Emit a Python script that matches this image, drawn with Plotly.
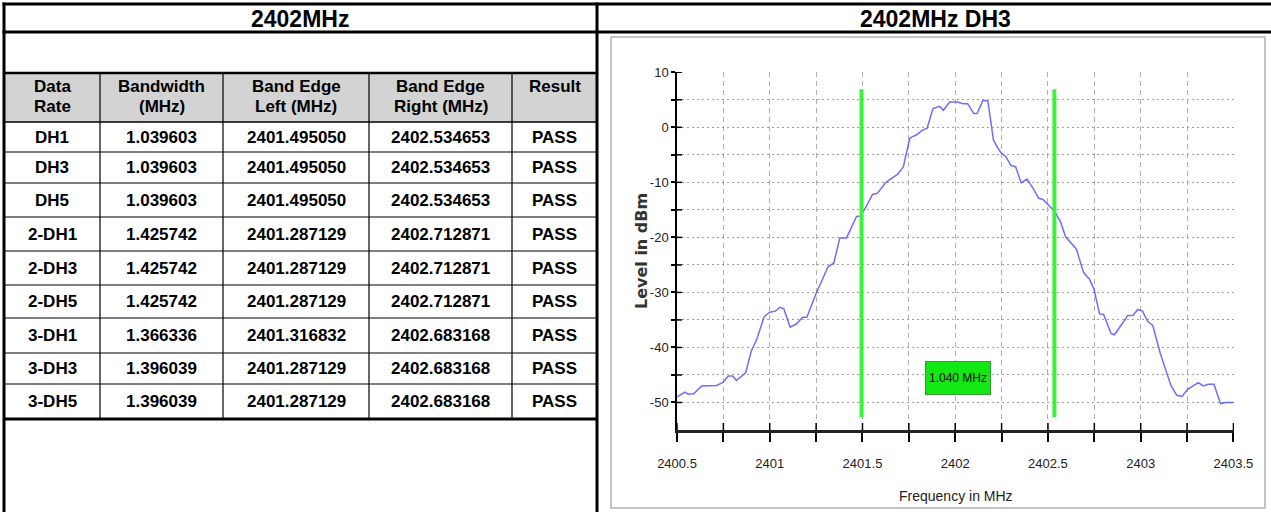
import plotly.graph_objects as go

W, H = 1271, 512

# ---------------- table data ----------------
table_title = "2402MHz"
chart_title = "2402MHz DH3"
header_line1 = ["Data", "Bandwidth", "Band Edge", "Band Edge", "Result"]
header_line2 = ["Rate", "(MHz)", "Left (MHz)", "Right (MHz)", ""]
rates = ["DH1", "DH3", "DH5", "2-DH1", "2-DH3", "2-DH5", "3-DH1", "3-DH3", "3-DH5"]
bandwidths = [1.039603, 1.039603, 1.039603, 1.425742, 1.425742, 1.425742, 1.366336, 1.396039, 1.396039]
left_edges = [2401.495050, 2401.495050, 2401.495050, 2401.287129, 2401.287129, 2401.287129,
              2401.316832, 2401.287129, 2401.287129]
right_edges = [2402.534653, 2402.534653, 2402.534653, 2402.712871, 2402.712871, 2402.712871,
               2402.683168, 2402.683168, 2402.683168]
results = ["PASS"] * 9

# ---------------- spectrum data (DH3) ----------------
freq_mhz = [2400.500, 2400.543, 2400.560, 2400.590, 2400.633, 2400.714, 2400.750, 2400.776, 2400.800,
            2400.820, 2400.870, 2400.900, 2400.930, 2400.970, 2401.000, 2401.030, 2401.055, 2401.076,
            2401.110, 2401.145, 2401.177, 2401.200, 2401.250, 2401.285, 2401.315, 2401.345, 2401.378,
            2401.414, 2401.468, 2401.490, 2401.520, 2401.554, 2401.580, 2401.626, 2401.665, 2401.690,
            2401.720, 2401.755, 2401.770, 2401.790, 2401.823, 2401.848, 2401.880, 2401.916, 2401.936,
            2401.970, 2402.010, 2402.044, 2402.067, 2402.100, 2402.118, 2402.150, 2402.176, 2402.206,
            2402.230, 2402.249, 2402.272, 2402.300, 2402.326, 2402.356, 2402.387, 2402.420, 2402.450,
            2402.473, 2402.536, 2402.567, 2402.595, 2402.626, 2402.653, 2402.692, 2402.724, 2402.748,
            2402.778, 2402.800, 2402.841, 2402.859, 2402.895, 2402.930, 2402.958, 2402.984, 2403.010,
            2403.038, 2403.065, 2403.105, 2403.137, 2403.164, 2403.195, 2403.223, 2403.253, 2403.284,
            2403.310, 2403.337, 2403.365, 2403.395, 2403.430, 2403.460, 2403.500]
level_dbm = [-49.0, -48.1, -48.5, -48.4, -47.0, -46.9, -46.3, -45.2, -45.2,
             -46.0, -44.6, -40.7, -38.5, -34.4, -33.6, -33.4, -32.7, -33.0,
             -36.3, -35.7, -34.5, -34.5, -30.2, -27.4, -25.3, -24.7, -20.1,
             -20.1, -16.2, -16.1, -14.4, -12.2, -12.0, -10.0, -9.1, -8.5,
             -7.2, -2.0, -1.7, -1.4, -0.5, -0.2, 3.4, 3.8, 3.1,
             4.6, 4.6, 4.3, 4.3, 2.5, 2.5, 4.9, 4.8, -2.3,
             -3.8, -4.7, -5.3, -6.9, -7.2, -10.1, -9.4, -11.1, -12.9,
             -13.1, -15.3, -17.1, -19.9, -21.1, -22.1, -26.4, -27.6, -29.4,
             -33.9, -34.0, -37.5, -37.7, -35.9, -34.2, -34.2, -33.1, -33.4,
             -35.3, -36.0, -41.0, -44.3, -47.0, -48.7, -48.9, -47.6, -47.0,
             -46.4, -47.0, -46.7, -46.7, -50.2, -50.0, -50.0]
dh3_index = 1
marker_left = left_edges[dh3_index]
marker_right = right_edges[dh3_index]
marker_bw = bandwidths[dh3_index]

x_tick_vals = [2400.5, 2400.75, 2401, 2401.25, 2401.5, 2401.75, 2402, 2402.25, 2402.5,
               2402.75, 2403, 2403.25, 2403.5]
x_tick_text = ["2400.5", "", "2401", "", "2401.5", "", "2402", "", "2402.5", "", "2403", "", "2403.5"]
y_tick_vals = [10, 5, 0, -5, -10, -15, -20, -25, -30, -35, -40, -45, -50]
y_tick_text = ["10", "", "0", "", "-10", "", "-20", "", "-30", "", "-40", "", "-50"]


def px(x):
    return x / W


def py(y):
    return 1 - y / H


NARROW = "Liberation Sans, Arial, sans-serif"
BOLD = "Liberation Sans, Arial, sans-serif"

fig = go.Figure()

fig.add_trace(go.Scatter(x=freq_mhz, y=level_dbm, mode="lines",
                         line=dict(color="rgba(85,85,250,0.85)", width=1.5),
                         hoverinfo="skip", showlegend=False))
for edge in (marker_left, marker_right):
    fig.add_trace(go.Scatter(x=[edge, edge], y=[6.9, -52.7], mode="lines",
                             line=dict(color="#3df23d", width=4),
                             hoverinfo="skip", showlegend=False))

shapes = []
annotations = []


def hline(y, x0, x1, w, color="black"):
    shapes.append(dict(type="line", xref="paper", yref="paper", x0=px(x0), x1=px(x1),
                       y0=py(y), y1=py(y), line=dict(color=color, width=w), layer="above"))


def vline(x, y0, y1, w, color="black"):
    shapes.append(dict(type="line", xref="paper", yref="paper", x0=px(x), x1=px(x),
                       y0=py(y0), y1=py(y1), line=dict(color=color, width=w), layer="above"))


# table header background
shapes.append(dict(type="rect", xref="paper", yref="paper", x0=px(4), x1=px(597),
                   y0=py(122), y1=py(73), fillcolor="#d3d3d3", line=dict(width=0), layer="below"))
# chart frame
shapes.append(dict(type="rect", xref="paper", yref="paper", x0=px(611), x1=px(1265),
                   y0=py(508), y1=py(37), fillcolor="rgba(0,0,0,0)",
                   line=dict(color="#c4c4c4", width=2), layer="below"))

# table/grid lines
hline(4, 2.5, W, 3)
hline(32, 2.5, W, 3)
hline(73, 4, 597, 2.5)
hline(122, 4, 597, 1.5)
row_bounds = [122, 152, 183, 217, 251, 285, 318, 353, 384, 419]
for yb in row_bounds[1:-1]:
    hline(yb, 4, 597, 1.2)
hline(419, 4, 597, 3)
vline(4, 2.5, H, 3)
vline(597, 2.5, H, 3)
col_bounds = [4, 100, 223, 369, 512, 597]
for xb in col_bounds[1:-1]:
    vline(xb, 73, 419, 1.2)

# titles
annotations.append(dict(x=px(300), y=py(19), xref="paper", yref="paper", text="<b>%s</b>" % table_title,
                        showarrow=False, font=dict(family=BOLD, size=23, color="black"),
                        xanchor="center", yanchor="middle"))
annotations.append(dict(x=px(935), y=py(19), xref="paper", yref="paper", text="<b>%s</b>" % chart_title,
                        showarrow=False, font=dict(family=BOLD, size=23, color="black"),
                        xanchor="center", yanchor="middle"))

col_centers = [(col_bounds[i] + col_bounds[i + 1]) / 2 for i in range(5)]
for i in range(5):
    annotations.append(dict(x=px(col_centers[i]), y=py(86), xref="paper", yref="paper",
                            text="<b>%s</b>" % header_line1[i], showarrow=False,
                            font=dict(family=BOLD, size=17, color="black"),
                            xanchor="center", yanchor="middle"))
    if header_line2[i]:
        annotations.append(dict(x=px(col_centers[i]), y=py(106), xref="paper", yref="paper",
                                text="<b>%s</b>" % header_line2[i], showarrow=False,
                                font=dict(family=BOLD, size=17, color="black"),
                                xanchor="center", yanchor="middle"))

for r in range(len(rates)):
    yc = (row_bounds[r] + row_bounds[r + 1]) / 2
    cells = [rates[r], "%.6f" % bandwidths[r], "%.6f" % left_edges[r], "%.6f" % right_edges[r], results[r]]
    for c in range(5):
        annotations.append(dict(x=px(col_centers[c]), y=py(yc), xref="paper", yref="paper",
                                text="<b>%s</b>" % cells[c], showarrow=False,
                                font=dict(family=BOLD, size=17, color="black"),
                                xanchor="center", yanchor="middle"))

# axis titles
annotations.append(dict(x=px(956), y=py(496), xref="paper", yref="paper", text="Frequency in MHz",
                        showarrow=False, font=dict(family=NARROW, size=14, color="#222"),
                        xanchor="center", yanchor="middle"))
annotations.append(dict(x=px(641), y=py(251), xref="paper", yref="paper", text="<b>Level in dBm</b>",
                        showarrow=False, textangle=-90,
                        font=dict(family="DejaVu Sans, sans-serif", size=16, color="#333"),
                        xanchor="center", yanchor="middle"))

# bandwidth label box
annotations.append(dict(x=(marker_left + marker_right) / 2, y=-45.5, xref="x", yref="y",
                        text="%.3f MHz" % marker_bw, showarrow=False,
                        font=dict(family=NARROW, size=12, color="black"),
                        bgcolor="#14e814", bordercolor="#3a9a3a", borderwidth=1,
                        width=62, height=30, xanchor="center", yanchor="middle"))

# crossing parts of ticks (inside part)
for v in x_tick_vals:
    shapes.append(dict(type="line", xref="x", yref="y domain", x0=v, x1=v, y0=0, y1=7 / 358,
                       line=dict(color="black", width=1.5), layer="above"))
for v in y_tick_vals:
    shapes.append(dict(type="line", xref="x domain", yref="y", x0=0, x1=5 / 557, y0=v, y1=v,
                       line=dict(color="black", width=1.5), layer="above"))

fig.update_layout(
    width=W, height=H, autosize=False,
    margin=dict(l=0, r=0, t=0, b=0, pad=0, autoexpand=False),
    paper_bgcolor="white", plot_bgcolor="white",
    showlegend=False,
    shapes=shapes, annotations=annotations,
    xaxis=dict(domain=[px(677), px(1234)], range=[2400.5, 2403.503], automargin=False,
               tickvals=x_tick_vals, ticktext=x_tick_text,
               showgrid=True, gridcolor="#b0b0b0", gridwidth=1, griddash="5px,4px",
               showline=True, linecolor="#222", linewidth=3,
               ticks="outside", ticklen=9, tickwidth=1.5, tickcolor="black",
               ticklabelstandoff=10,
               tickfont=dict(family=NARROW, size=13, color="#222"),
               zeroline=False, fixedrange=True),
    yaxis=dict(domain=[1 - 430 / H, 1 - 72 / H], range=[-55, 10.05], automargin=False,
               tickvals=y_tick_vals, ticktext=y_tick_text,
               showgrid=True, gridcolor="#a0a0a0", gridwidth=1, griddash="2px,3px",
               showline=True, linecolor="black", linewidth=1.5,
               ticks="outside", ticklen=4, tickwidth=1.5, tickcolor="black",
               tickfont=dict(family=NARROW, size=13, color="#222"),
               zeroline=False, fixedrange=True),
)

fig.write_html("out.html", config={"displayModeBar": False},
               post_script="document.body.style.margin='0px';document.body.style.overflow='hidden';")
